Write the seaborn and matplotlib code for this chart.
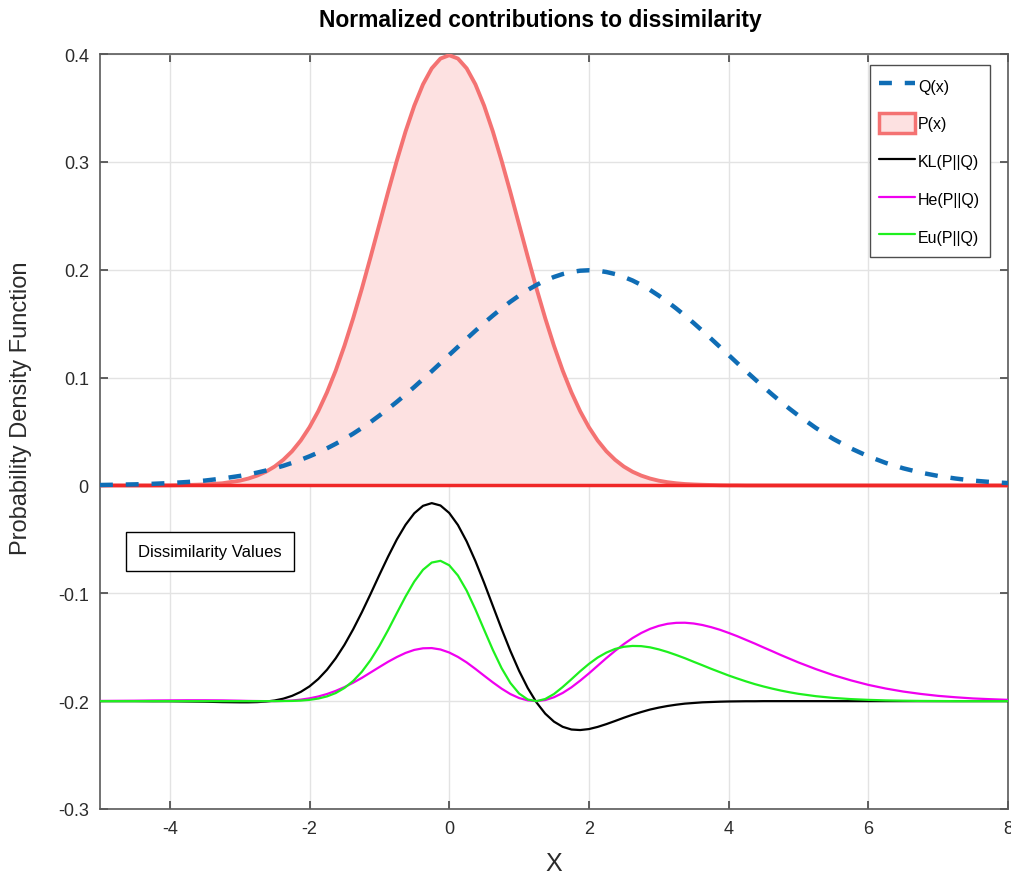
import numpy as np
import pandas as pd
import matplotlib
matplotlib.use("Agg")
import matplotlib.pyplot as plt
import seaborn as sns
from matplotlib.lines import Line2D
from matplotlib.patches import Patch

# ---------------- data ----------------
# sample positions: coarse on the flat tails, finer through the middle
x_vals = np.concatenate([np.arange(-5.0, -3.0, 0.25),
                         np.arange(-3.0, 5.001, 0.125),
                         np.arange(5.25, 8.001, 0.25)])

p_vals = [0.0000, 0.0000, 0.0000, 0.0000, 0.0001, 0.0004, 0.0009, 0.0020,
          0.0044, 0.0064, 0.0091, 0.0127, 0.0175, 0.0238, 0.0317, 0.0417,
          0.0540, 0.0688, 0.0863, 0.1065, 0.1295, 0.1550, 0.1826, 0.2119,
          0.2420, 0.2721, 0.3011, 0.3282, 0.3521, 0.3719, 0.3867, 0.3958,
          0.3989,
          0.3958, 0.3867, 0.3719, 0.3521, 0.3282, 0.3011, 0.2721, 0.2420,
          0.2119, 0.1826, 0.1550, 0.1295, 0.1065, 0.0863, 0.0688, 0.0540,
          0.0417, 0.0317, 0.0238, 0.0175, 0.0127, 0.0091, 0.0064, 0.0044,
          0.0030, 0.0020, 0.0013, 0.0009, 0.0006, 0.0004, 0.0002, 0.0001,
          0.0001, 0.0000, 0.0000, 0.0000, 0.0000, 0.0000, 0.0000, 0.0000,
          0.0000, 0.0000, 0.0000, 0.0000, 0.0000, 0.0000, 0.0000, 0.0000,
          0.0000, 0.0000, 0.0000, 0.0000]

q_vals = [0.0004, 0.0007, 0.0010, 0.0015, 0.0022, 0.0032, 0.0045, 0.0064,
          0.0088, 0.0102, 0.0119, 0.0138, 0.0159, 0.0182, 0.0209, 0.0238,
          0.0270, 0.0305, 0.0344, 0.0386, 0.0431, 0.0480, 0.0533, 0.0588,
          0.0648, 0.0710, 0.0775, 0.0843, 0.0913, 0.0986, 0.1059, 0.1134,
          0.1210,
          0.1285, 0.1360, 0.1434, 0.1506, 0.1575, 0.1641, 0.1703, 0.1760,
          0.1813, 0.1859, 0.1900, 0.1933, 0.1960, 0.1979, 0.1991, 0.1995,
          0.1991, 0.1979, 0.1960, 0.1933, 0.1900, 0.1859, 0.1813, 0.1760,
          0.1703, 0.1641, 0.1575, 0.1506, 0.1434, 0.1360, 0.1285, 0.1210,
          0.1134, 0.1059, 0.0986, 0.0913, 0.0843, 0.0775, 0.0710, 0.0648,
          0.0533, 0.0431, 0.0344, 0.0270, 0.0209, 0.0159, 0.0119, 0.0088,
          0.0064, 0.0045, 0.0032, 0.0022]

kl_vals = [-0.2000, -0.2000, -0.2000, -0.2001, -0.2001, -0.2003, -0.2005, -0.2009,
           -0.2011, -0.2011, -0.2009, -0.2004, -0.1994, -0.1977, -0.1951, -0.1914,
           -0.1863, -0.1795, -0.1709, -0.1603, -0.1478, -0.1334, -0.1175, -0.1005,
           -0.0830, -0.0660, -0.0501, -0.0365, -0.0258, -0.0189, -0.0164, -0.0186,
           -0.0255,
           -0.0367, -0.0519, -0.0701, -0.0903, -0.1117, -0.1330, -0.1533, -0.1718,
           -0.1879, -0.2012, -0.2116, -0.2190, -0.2238, -0.2263, -0.2268, -0.2259,
           -0.2239, -0.2213, -0.2184, -0.2154, -0.2126, -0.2101, -0.2078, -0.2060,
           -0.2045, -0.2033, -0.2023, -0.2017, -0.2011, -0.2008, -0.2005, -0.2003,
           -0.2002, -0.2001, -0.2001, -0.2000, -0.2000, -0.2000, -0.2000, -0.2000,
           -0.2000, -0.2000, -0.2000, -0.2000, -0.2000, -0.2000, -0.2000, -0.2000,
           -0.2000, -0.2000, -0.2000, -0.2000]

he_vals = [-0.1998, -0.1997, -0.1996, -0.1994, -0.1993, -0.1992, -0.1992, -0.1993,
           -0.1996, -0.1998, -0.1999, -0.2000, -0.2000, -0.1998, -0.1994, -0.1986,
           -0.1974, -0.1957, -0.1934, -0.1905, -0.1870, -0.1829, -0.1784, -0.1734,
           -0.1684, -0.1635, -0.1591, -0.1553, -0.1525, -0.1510, -0.1508, -0.1521,
           -0.1549,
           -0.1590, -0.1641, -0.1701, -0.1764, -0.1826, -0.1884, -0.1934, -0.1971,
           -0.1993, -0.2000, -0.1990, -0.1964, -0.1924, -0.1872, -0.1810, -0.1743,
           -0.1672, -0.1601, -0.1534, -0.1471, -0.1415, -0.1368, -0.1330, -0.1302,
           -0.1283, -0.1274, -0.1273, -0.1280, -0.1294, -0.1314, -0.1338, -0.1367,
           -0.1398, -0.1432, -0.1466, -0.1502, -0.1537, -0.1573, -0.1607, -0.1641,
           -0.1703, -0.1759, -0.1807, -0.1849, -0.1883, -0.1911, -0.1933, -0.1951,
           -0.1964, -0.1975, -0.1982, -0.1988]

eu_vals = [-0.2000, -0.2000, -0.2000, -0.2000, -0.2000, -0.2000, -0.2000, -0.2000,
           -0.2000, -0.2000, -0.2000, -0.2000, -0.2000, -0.1999, -0.1998, -0.1995,
           -0.1988, -0.1976, -0.1956, -0.1925, -0.1878, -0.1813, -0.1727, -0.1618,
           -0.1488, -0.1341, -0.1184, -0.1030, -0.0891, -0.0782, -0.0715, -0.0699,
           -0.0740,
           -0.0835, -0.0975, -0.1149, -0.1338, -0.1525, -0.1694, -0.1831, -0.1929,
           -0.1985, -0.2000, -0.1980, -0.1934, -0.1869, -0.1797, -0.1723, -0.1655,
           -0.1596, -0.1550, -0.1516, -0.1496, -0.1488, -0.1490, -0.1501, -0.1520,
           -0.1544, -0.1572, -0.1602, -0.1635, -0.1667, -0.1700, -0.1731, -0.1762,
           -0.1790, -0.1817, -0.1842, -0.1864, -0.1884, -0.1902, -0.1918, -0.1932,
           -0.1954, -0.1970, -0.1981, -0.1988, -0.1993, -0.1996, -0.1998, -0.1999,
           -0.2000, -0.2000, -0.2000, -0.2000]

series_labels = ["Q(x)", "P(x)", "KL(P||Q)", "He(P||Q)", "Eu(P||Q)"]
x_ticks = [-4, -2, 0, 2, 4, 6, 8]
y_ticks = [-0.3, -0.2, -0.1, 0, 0.1, 0.2, 0.3, 0.4]
y_ticklabels = ["-0.3", "-0.2", "-0.1", "0", "0.1", "0.2", "0.3", "0.4"]

# ---------------- styling ----------------
sns.set_theme(style="whitegrid")
plt.rcParams["font.family"] = ["Liberation Sans", "DejaVu Sans"]

C_Q = "#0F6DB5"
C_P_EDGE = "#F47272"
C_P_FILL = "#FDE1E1"
C_ZERO = "#F02828"
C_KL = "#000000"
C_HE = "#F000F0"
C_EU = "#1EF01E"
C_TXT = "#2B2B2B"

fig = plt.figure(figsize=(10.12, 8.79), dpi=100)
ax = fig.add_axes([0.0988, 0.0785, 0.8972, 0.8589])

df = pd.DataFrame({"x": x_vals, "P": p_vals, "Q": q_vals,
                   "KL": kl_vals, "He": he_vals, "Eu": eu_vals})

# P(x) filled area
ax.fill_between(df["x"], 0, df["P"], color=C_P_FILL, linewidth=0, zorder=2)
sns.lineplot(data=df, x="x", y="P", ax=ax, color=C_P_EDGE, linewidth=2.8,
             estimator=None, sort=False, zorder=3)
ax.axhline(0, color=C_ZERO, linewidth=2.5, zorder=3)

# Q(x) dashed
sns.lineplot(data=df, x="x", y="Q", ax=ax, color=C_Q, linewidth=3.2,
             estimator=None, sort=False, zorder=4)
ax.lines[-1].set_dashes([2.9, 2.9])

# dissimilarity contributions
for col, c in (("KL", C_KL), ("He", C_HE), ("Eu", C_EU)):
    sns.lineplot(data=df, x="x", y=col, ax=ax, color=c, linewidth=1.6,
                 estimator=None, sort=False, zorder=5)

ax.set_xlim(-5, 8)
ax.set_ylim(-0.3, 0.4)
ax.set_xticks(x_ticks)
ax.set_xticklabels([str(t) for t in x_ticks])
ax.set_yticks(y_ticks)
ax.set_yticklabels(y_ticklabels)
ax.tick_params(axis="both", labelsize=13, direction="in", length=6,
               color="#4D4D4D", labelcolor=C_TXT, top=True, right=True,
               bottom=True, left=True, pad=8)
ax.grid(True, color="#E3E3E3", linewidth=1.0)
ax.set_axisbelow(True)
for s in ax.spines.values():
    s.set_visible(True)
    s.set_color("#5A5A5A")
    s.set_linewidth(1.2)
ax.set_facecolor("white")

ax.set_title("Normalized contributions to dissimilarity", fontsize=16.5,
             fontweight="bold", pad=20, color="#000000", x=0.485)
ax.set_xlabel("X", fontsize=18, color=C_TXT, labelpad=10)
ax.set_ylabel("Probability Density Function", fontsize=17, color=C_TXT)
ax.yaxis.set_label_coords(-0.075, 0.532)

# annotation box
ax.text(-4.45, -0.061, "Dissimilarity Values", fontsize=12, color="#000000",
        va="center", ha="left", zorder=6,
        bbox=dict(boxstyle="square,pad=0.72", facecolor="white",
                  edgecolor="#000000", linewidth=1.0))

handles = [
    Line2D([0], [0], color=C_Q, linewidth=3.2, dashes=[2.9, 2.9]),
    Patch(facecolor=C_P_FILL, edgecolor=C_P_EDGE, linewidth=2.5),
    Line2D([0], [0], color=C_KL, linewidth=1.6),
    Line2D([0], [0], color=C_HE, linewidth=1.6),
    Line2D([0], [0], color=C_EU, linewidth=1.6),
]
leg = ax.legend(handles, series_labels, loc="upper right",
                bbox_to_anchor=(0.980, 0.985), fontsize=11.5, frameon=True,
                fancybox=False, edgecolor="#4D4D4D", framealpha=1.0,
                handlelength=2.2, handleheight=1.55, labelspacing=1.12,
                handletextpad=0.2, borderpad=0.62, borderaxespad=0.0)
leg.get_frame().set_linewidth(1.0)
for t in leg.get_texts():
    t.set_color("#000000")

fig.savefig("out.png", dpi=100)
